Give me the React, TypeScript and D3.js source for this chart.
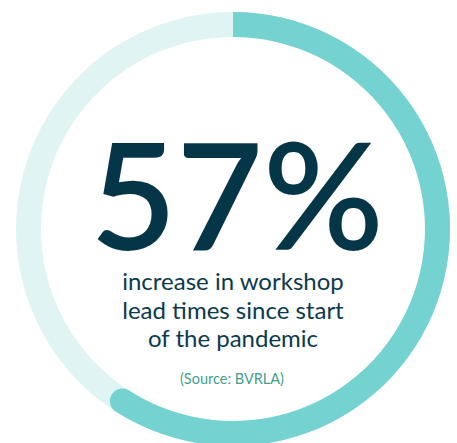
import { useRef, useEffect } from 'react';
import * as d3 from 'd3';

const headline = ['57%'];
const ringShare = [0.591];
const captionLines = ['increase in workshop', 'lead times since start', 'of the pandemic'];
const sourceLabel = ['(Source: BVRLA)'];

const W = 457;
const H = 443;

const App = () => {
    const ref = useRef<SVGSVGElement>(null);

    useEffect(() => {
        const svg = d3.select(ref.current);
        svg.selectAll('*').remove();

        const cx = 233;
        const cy = 229;
        const outer = 217;
        const inner = 192;
        const mid = (outer + inner) / 2;

        const g = svg.append('g').attr('transform', `translate(${cx},${cy})`);

        const angle = d3.scaleLinear().domain([0, 1]).range([0, 2 * Math.PI]);
        const arc = d3.arc<any>().innerRadius(inner).outerRadius(outer);

        // background track
        g.append('path')
            .attr('d', arc({ startAngle: 0, endAngle: angle(1) }))
            .attr('fill', '#e0f4f3');

        // filled part
        const end = angle(ringShare[0]);
        g.append('path')
            .attr('d', arc({ startAngle: 0, endAngle: end }))
            .attr('fill', '#74d3d1');

        // rounded end cap
        g.append('circle')
            .attr('cx', mid * Math.sin(end))
            .attr('cy', -mid * Math.cos(end))
            .attr('r', (outer - inner) / 2)
            .attr('fill', '#74d3d1');

        const font = "Lato, 'Open Sans', sans-serif";

        svg.append('text')
            .attr('x', 237)
            .attr('y', 250)
            .attr('text-anchor', 'middle')
            .attr('font-family', font)
            .attr('font-size', 149)
            .attr('font-weight', 600)
            .attr('fill', '#053648')
            .text(headline[0]);

        svg.append('g')
            .selectAll('text')
            .data(captionLines)
            .enter().append('text')
            .attr('x', 233)
            .attr('y', (d, i) => 290 + i * 28.5)
            .attr('text-anchor', 'middle')
            .attr('font-family', font)
            .attr('font-size', 24)
            .attr('fill', '#0b3a4c')
            .text(d => d);

        svg.append('text')
            .attr('x', 232)
            .attr('y', 384)
            .attr('text-anchor', 'middle')
            .attr('font-family', font)
            .attr('font-size', 14.5)
            .attr('fill', '#3f9f8f')
            .text(sourceLabel[0]);
    }, []);

    return (
        <svg
            ref={ref}
            width={W}
            height={H}
            style={{ position: 'absolute', left: 0, top: 0, background: '#fff' }}
        ></svg>
    );
};

export default App;
